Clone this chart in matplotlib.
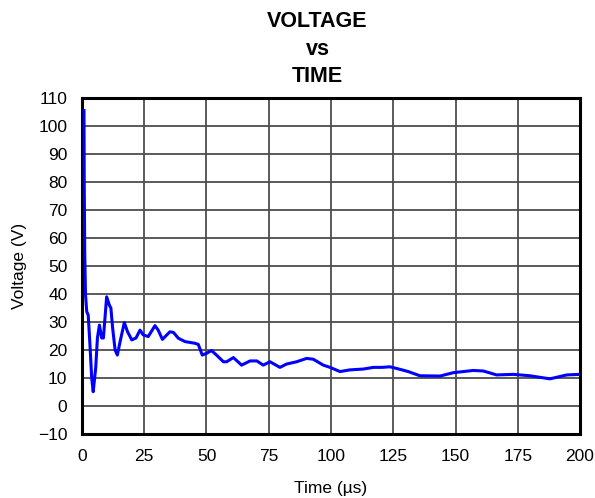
import numpy as np
import matplotlib.pyplot as plt

plt.rcParams['font.family'] = ['Liberation Sans', 'DejaVu Sans']

# trace (time in us, voltage in V)
time_us = [0.8, 0.9, 1.1, 1.4, 1.9, 2.5, 3.2, 3.9, 4.5, 5.5, 6.2, 7.0, 7.9, 8.6,
           9.9, 11.0, 11.6, 12.3, 13.3, 14.2, 15.3, 17.0, 18.3, 20.0, 21.7, 23.3,
           24.6, 26.6, 29.3, 30.6, 32.3, 35.3, 36.7, 38.7, 41.4, 45.4, 46.7, 48.3,
           50.0, 52.0, 54.0, 56.8, 58.1, 60.8, 64.1, 67.5, 70.2, 72.8, 75.5, 79.5,
           82.2, 86.2, 90.2, 92.9, 96.9, 99.6, 103.6, 107.6, 113.0, 117.0, 120.4,
           123.7, 127.7, 131.0, 135.7, 143.8, 149.1, 157.2, 161.2, 166.5, 173.2,
           179.9, 187.9, 194.7, 200.0]
voltage = [105.5, 80.0, 55.0, 40.0, 33.7, 32.5, 21.8, 10.0, 5.1, 13.6, 24.3, 28.9,
           24.3, 24.3, 39.0, 36.0, 35.0, 27.9, 20.0, 18.2, 23.0, 29.8, 26.5, 23.6,
           24.3, 27.1, 25.4, 24.8, 28.7, 27.1, 23.8, 26.5, 26.3, 24.2, 23.0, 22.4,
           22.0, 18.2, 18.8, 19.8, 18.2, 15.8, 15.8, 17.3, 14.6, 16.1, 16.1, 14.6,
           15.8, 13.8, 15.0, 15.8, 17.0, 16.7, 14.6, 13.8, 12.3, 12.9, 13.2, 13.8,
           13.8, 14.0, 13.1, 12.3, 10.8, 10.7, 11.9, 12.7, 12.5, 11.1, 11.3, 10.8,
           9.7, 11.1, 11.3]

x_ticks = [0, 25, 50, 75, 100, 125, 150, 175, 200]
y_ticks = list(range(-10, 111, 10))

fig = plt.figure(figsize=(5.95, 4.98), dpi=100)
ax = fig.add_axes([0.1378, 0.1285, 0.837, 0.6747])

ax.plot(time_us, voltage, color='#0000ff', linewidth=2.2, zorder=3)

ax.set_xlim(0, 200)
ax.set_ylim(-10, 110)
ax.set_xticks(x_ticks)
ax.set_yticks(y_ticks)
ax.set_yticklabels([str(v).replace('-', '\u2212') for v in y_ticks])
ax.tick_params(length=0, labelsize=12.5)
ax.tick_params(axis='x', pad=11)
ax.tick_params(axis='y', pad=10.5)
ax.grid(True, color='#4d4d4d', linewidth=1.3)
for s in ax.spines.values():
    s.set_linewidth(2.2)
    s.set_color('black')

ax.set_xlabel('Time (\u00b5s)', fontsize=12.5, labelpad=12)
ax.set_ylabel('Voltage (V)', fontsize=12.5, labelpad=8)

# three-line bold title
for txt, yy in [('VOLTAGE', 0.9458), ('vs', 0.8896), ('TIME', 0.8353)]:
    fig.text(0.5336, yy, txt, ha='center', va='baseline', fontsize=15.5, fontweight='bold')

fig.savefig('out.png', dpi=100)
